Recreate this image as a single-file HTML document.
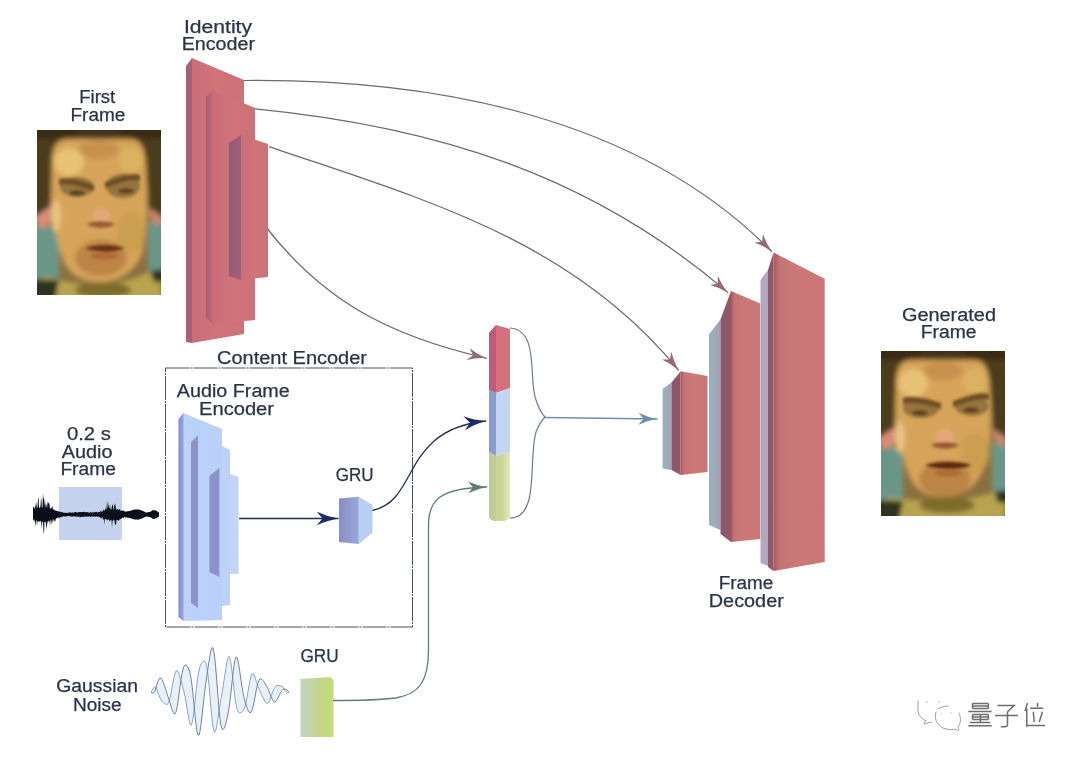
<!DOCTYPE html>
<html><head><meta charset="utf-8">
<style>
html,body{margin:0;padding:0;background:#fff;}
body{width:1080px;height:762px;overflow:hidden;}
svg{display:block;filter:blur(0.35px);}
text{font-family:"Liberation Sans",sans-serif;fill:#2a3448;stroke:#2a3448;stroke-width:0.25px;}
</style></head>
<body>
<svg width="1080" height="762" viewBox="0 0 1080 762">
<defs>
  <linearGradient id="pinkF" x1="0" y1="0" x2="1" y2="0">
    <stop offset="0" stop-color="#c86e7a"/><stop offset="0.5" stop-color="#d07478"/><stop offset="1" stop-color="#cc707a"/>
  </linearGradient>
  <linearGradient id="coralF" x1="0" y1="0" x2="1" y2="0">
    <stop offset="0" stop-color="#a85862"/><stop offset="0.12" stop-color="#c47474"/><stop offset="0.5" stop-color="#cc7878"/><stop offset="1" stop-color="#ca7676"/>
  </linearGradient>
  <linearGradient id="darkS" x1="0" y1="0" x2="1" y2="0">
    <stop offset="0" stop-color="#845c72"/><stop offset="1" stop-color="#985460"/>
  </linearGradient>
  <marker id="arMauve" viewBox="0 0 19 12" refX="19" refY="6" markerWidth="19" markerHeight="12" markerUnits="userSpaceOnUse" orient="auto">
    <path d="M0,0 Q9,4.5 19,6 Q9,7.5 0,12 L5,6 Z" fill="#94697a"/>
  </marker>
  <marker id="arNavy" viewBox="0 0 22 14" refX="22" refY="7" markerWidth="22" markerHeight="14" markerUnits="userSpaceOnUse" orient="auto">
    <path d="M0,0 Q10,5 22,7 Q10,9 0,14 L6,7 Z" fill="#1c2a66"/>
  </marker>
  <marker id="arGreen" viewBox="0 0 19 12" refX="19" refY="6" markerWidth="19" markerHeight="12" markerUnits="userSpaceOnUse" orient="auto">
    <path d="M0,0 Q9,4.5 19,6 Q9,7.5 0,12 L5,6 Z" fill="#5f7f70"/>
  </marker>
  <marker id="arBlue" viewBox="0 0 19 12" refX="19" refY="6" markerWidth="19" markerHeight="12" markerUnits="userSpaceOnUse" orient="auto">
    <path d="M0,0 Q9,4.5 19,6 Q9,7.5 0,12 L5,6 Z" fill="#6d8fae"/>
  </marker>

  <filter id="fblur" x="-10%" y="-10%" width="120%" height="120%"><feGaussianBlur stdDeviation="2.4"/></filter>
  <filter id="fblur2" x="-30%" y="-30%" width="160%" height="160%"><feGaussianBlur stdDeviation="1.6"/></filter>
  <clipPath id="fclip"><rect x="0" y="0" width="124" height="165"/></clipPath>
  <g id="face1">
    <g clip-path="url(#fclip)">
    <rect x="0" y="0" width="124" height="165" fill="#8a7040"/>
    <g filter="url(#fblur)">
      <rect x="-10" y="96" width="32" height="58" fill="#6a9688"/>
      <rect x="111" y="92" width="26" height="54" fill="#6a9688"/>
      <ellipse cx="6" cy="78" rx="10" ry="20" fill="#d88c78"/>
      <ellipse cx="120" cy="80" rx="8" ry="15" fill="#c88670"/>
      <path d="M-10,-10 L134,-10 L134,92 L112,78 C110,40 110,8 62,7 C14,8 14,40 14,76 L-10,92 Z" fill="#4c3e1c"/>
      <path d="M-10,-10 L134,-10 L134,9 L-10,9 Z" fill="#3a2c16"/>
      <ellipse cx="62" cy="8" rx="26" ry="12" fill="#45321a"/>
      <path d="M15,36 C15,18 18,10 30,9 L94,9 C104,10 108,18 109,36 C111,78 110,106 105,124 C96,144 80,152 62,152 C44,152 30,144 24,124 C18,106 13,78 15,36 Z" fill="#d6a45a"/>
      <ellipse cx="62" cy="20" rx="20" ry="9" fill="#c08848" fill-opacity="0.7"/>
      <ellipse cx="32" cy="32" rx="15" ry="14" fill="#e8c274"/>
      <ellipse cx="94" cy="30" rx="12" ry="12" fill="#dcb262"/>
      <ellipse cx="19" cy="86" rx="5" ry="16" fill="#eac282"/>
      <ellipse cx="94" cy="102" rx="14" ry="20" fill="#cc9e50"/>
      <ellipse cx="64" cy="128" rx="26" ry="18" fill="#bc8444"/>
      <path d="M10,146 C40,158 84,158 116,140 L124,148 L124,170 L0,170 L0,150 Z" fill="#b8a450"/>
      <ellipse cx="66" cy="160" rx="28" ry="8" fill="#7e6c2c"/>
      <path d="M-10,149 L22,150 L18,170 L-10,170 Z" fill="#2e3024"/>
      <path d="M113,141 L134,138 L134,152 L117,152 Z" fill="#2e3024"/>
    </g>
    <g filter="url(#fblur2)">
      <ellipse cx="40" cy="57" rx="17" ry="10" fill="#96743c"/>
      <ellipse cx="86" cy="56" rx="17" ry="12" fill="#96743c"/>
      <path d="M22,49 C32,46 47,52 57,55 L57,61 C47,58 32,52 22,55 Z" fill="#6e4e22"/>
      <path d="M68,52 C78,49 93,42 103,45 L103,51 C93,48 78,55 68,58 Z" fill="#6e4e22"/>
      <ellipse cx="40" cy="63" rx="8" ry="2.6" fill="#5a3a1c"/>
      <ellipse cx="89" cy="61" rx="8" ry="2.6" fill="#5a3a1c"/>
      <ellipse cx="64" cy="86" rx="9" ry="8" fill="#e4a878"/>
      <path d="M50,94 C56,90 70,90 78,94 C72,99 56,99 50,94 Z" fill="#9a5a30"/>
      <path d="M48,118 C60,114 77,114 87,118 C79,123 60,123 48,118 Z" fill="#6a3012"/>
      <ellipse cx="67.5" cy="126" rx="14" ry="3.5" fill="#b06a38"/>
    </g>
    </g>
  </g>
  <g id="face2">
    <g clip-path="url(#fclip)">
    <rect x="0" y="0" width="124" height="165" fill="#8a7040"/>
    <g filter="url(#fblur)">
      <rect x="-10" y="96" width="32" height="58" fill="#6a9688"/>
      <rect x="111" y="92" width="26" height="54" fill="#6a9688"/>
      <ellipse cx="6" cy="78" rx="10" ry="20" fill="#d88c78"/>
      <ellipse cx="120" cy="80" rx="8" ry="15" fill="#c88670"/>
      <path d="M-10,-10 L134,-10 L134,92 L112,78 C110,40 110,8 62,7 C14,8 14,40 14,76 L-10,92 Z" fill="#4c3e1c"/>
      <path d="M-10,-10 L134,-10 L134,9 L-10,9 Z" fill="#3a2c16"/>
      <ellipse cx="62" cy="8" rx="26" ry="12" fill="#45321a"/>
      <path d="M15,36 C15,18 18,10 30,9 L94,9 C104,10 108,18 109,36 C111,78 110,94 105,112 C96,138 80,146 62,146 C44,146 30,138 24,112 C18,94 13,78 15,36 Z" fill="#d6a45a"/>
      <ellipse cx="62" cy="20" rx="20" ry="9" fill="#c08848" fill-opacity="0.7"/>
      <ellipse cx="32" cy="32" rx="15" ry="14" fill="#e8c274"/>
      <ellipse cx="94" cy="30" rx="12" ry="12" fill="#dcb262"/>
      <ellipse cx="19" cy="86" rx="5" ry="16" fill="#eac282"/>
      <ellipse cx="94" cy="102" rx="14" ry="20" fill="#cc9e50"/>
      <ellipse cx="64" cy="128" rx="26" ry="18" fill="#bc8444"/>
      <path d="M10,146 C40,152 84,152 116,140 L124,148 L124,170 L0,170 L0,150 Z" fill="#b8a450"/>
      <ellipse cx="66" cy="154" rx="28" ry="8" fill="#7e6c2c"/>
      <path d="M-10,149 L22,150 L18,170 L-10,170 Z" fill="#2e3024"/>
      <path d="M113,141 L134,138 L134,152 L117,152 Z" fill="#2e3024"/>
    </g>
    <g filter="url(#fblur2)">
      <ellipse cx="40" cy="57" rx="18" ry="10" fill="#96743c"/>
      <ellipse cx="91" cy="55" rx="17" ry="10" fill="#96743c"/>
      <path d="M22,47 C32,44 50,49 60,52 L60,58 C50,55 32,50 22,53 Z" fill="#6e4e22"/>
      <path d="M72,50 C82,47 98,40 108,43 L108,49 C98,46 82,53 72,56 Z" fill="#6e4e22"/>
      <ellipse cx="39" cy="62" rx="8" ry="2.6" fill="#5a3a1c"/>
      <ellipse cx="90" cy="59" rx="8" ry="2.6" fill="#5a3a1c"/>
      <ellipse cx="64" cy="86" rx="9" ry="8" fill="#e4a878"/>
      <path d="M50,94 C56,90 70,90 78,94 C72,99 56,99 50,94 Z" fill="#9a5a30"/>
      <path d="M44,114 C56,110 80,110 90,114 C82,119 56,119 44,114 Z" fill="#5a2810"/>
      <ellipse cx="67.0" cy="122" rx="14" ry="3.5" fill="#b06a38"/>
    </g>
    </g>
  </g>
  <linearGradient id="greenG" x1="0" y1="0" x2="1" y2="0">
    <stop offset="0" stop-color="#c0d4c0"/><stop offset="0.5" stop-color="#c4d494"/><stop offset="0.85" stop-color="#c0dc78"/><stop offset="1" stop-color="#c8d888"/>
  </linearGradient>
  <linearGradient id="stripG" x1="0" y1="0" x2="1" y2="0">
    <stop offset="0" stop-color="#a85c72"/><stop offset="1" stop-color="#c06c7c"/>
  </linearGradient>
  <linearGradient id="stripG2" x1="0" y1="0" x2="1" y2="0">
    <stop offset="0" stop-color="#925a7c"/><stop offset="1" stop-color="#a45e78"/>
  </linearGradient>
  <linearGradient id="gruL" x1="0" y1="0" x2="1" y2="0">
    <stop offset="0" stop-color="#8a8ec6"/><stop offset="1" stop-color="#98a6d8"/>
  </linearGradient>
  <linearGradient id="lightS" x1="0" y1="0" x2="1" y2="0">
    <stop offset="0" stop-color="#98b2bc"/><stop offset="0.6" stop-color="#9eaab8"/><stop offset="1" stop-color="#a89cb4"/>
  </linearGradient>
  <linearGradient id="colG" x1="0" y1="0" x2="1" y2="0">
    <stop offset="0" stop-color="#c0d898"/><stop offset="0.6" stop-color="#ccd494"/><stop offset="1" stop-color="#e4e8c4"/>
  </linearGradient>
  <linearGradient id="afeF" x1="0" y1="0" x2="1" y2="0">
    <stop offset="0" stop-color="#c4d2f8"/><stop offset="0.3" stop-color="#b8d2f8"/><stop offset="1" stop-color="#bccff8"/>
  </linearGradient>
  <linearGradient id="afeS" x1="0" y1="0" x2="1" y2="0">
    <stop offset="0" stop-color="#8890c8"/><stop offset="1" stop-color="#9aa0e4"/>
  </linearGradient>
</defs>
<rect width="1080" height="762" fill="#fff"/>

<!-- Labels -->
<text x="184.0" y="32.8" font-size="18" textLength="68.0" lengthAdjust="spacingAndGlyphs">Identity</text>
<text x="181.7" y="50.0" font-size="18" textLength="73.3" lengthAdjust="spacingAndGlyphs">Encoder</text>
<text x="79.2" y="103.0" font-size="18" textLength="36.1" lengthAdjust="spacingAndGlyphs">First</text>
<text x="70.5" y="121.3" font-size="18" textLength="54.9" lengthAdjust="spacingAndGlyphs">Frame</text>
<text x="901.9" y="320.5" font-size="18" textLength="94.1" lengthAdjust="spacingAndGlyphs">Generated</text>
<text x="920.8" y="337.9" font-size="18" textLength="55.7" lengthAdjust="spacingAndGlyphs">Frame</text>
<text x="718.7" y="589.0" font-size="18" textLength="54.6" lengthAdjust="spacingAndGlyphs">Frame</text>
<text x="708.8" y="607.0" font-size="18" textLength="75.0" lengthAdjust="spacingAndGlyphs">Decoder</text>
<text x="217.0" y="364.4" font-size="18" textLength="150.0" lengthAdjust="spacingAndGlyphs">Content Encoder</text>
<text x="176.8" y="397.0" font-size="18" textLength="113.0" lengthAdjust="spacingAndGlyphs">Audio Frame</text>
<text x="199.0" y="414.8" font-size="18" textLength="75.0" lengthAdjust="spacingAndGlyphs">Encoder</text>
<text x="335.8" y="481.0" font-size="18" textLength="37.8" lengthAdjust="spacingAndGlyphs">GRU</text>
<text x="300.4" y="661.8" font-size="18" textLength="38.3" lengthAdjust="spacingAndGlyphs">GRU</text>
<text x="66.9" y="439.5" font-size="18" textLength="44.1" lengthAdjust="spacingAndGlyphs">0.2 s</text>
<text x="61.7" y="457.6" font-size="18" textLength="50.8" lengthAdjust="spacingAndGlyphs">Audio</text>
<text x="60.4" y="475.0" font-size="18" textLength="55.5" lengthAdjust="spacingAndGlyphs">Frame</text>
<text x="56.3" y="692.0" font-size="18" textLength="81.7" lengthAdjust="spacingAndGlyphs">Gaussian</text>
<text x="73.0" y="710.5" font-size="18" textLength="48.7" lengthAdjust="spacingAndGlyphs">Noise</text>

<!-- faces -->
<use href="#face1" x="37" y="130"/>
<use href="#face2" x="881" y="351"/>

<!-- skip curves -->
<g fill="none" stroke="#6c6a72" stroke-width="1.25">
  <path d="M244.0,80.5 C429.9,78.8 636.5,114.4 772.0,251.8" marker-end="url(#arMauve)"/>
  <path d="M255.0,108.8 C435.0,126.4 591.1,174.7 728.3,292.9" marker-end="url(#arMauve)"/>
  <path d="M269.0,146.6 C421.1,198.7 572.0,239.1 678.7,370.4" marker-end="url(#arMauve)"/>
  <path d="M262.0,222.0 C322.5,301.8 390.2,336.1 486.8,358.3" marker-end="url(#arMauve)"/>
</g>

<!-- Identity encoder -->
<g>
  <polygon points="186,66 192,58 192,343 186,342" fill="#a86078"/>
  <polygon points="192,58 244,80 244,334 192,343" fill="url(#pinkF)"/>
  <polygon points="206,97 213,90 213,324 206,318" fill="url(#stripG)"/>
  <polygon points="213,90 255,108 255,320 213,324" fill="url(#pinkF)"/>
  <polygon points="229,143 241,135 241,280 229,276" fill="url(#stripG2)"/>
  <polygon points="241,135 268,144 268,277 241,280" fill="url(#pinkF)"/>
</g>

<!-- Decoder -->
<g>
  <polygon points="662.6,389 671.5,382.5 671.5,470 662.6,468.5" fill="url(#lightS)"/>
  <polygon points="671.5,382.5 680.7,371.3 680.7,475 671.5,470" fill="url(#darkS)"/>
  <polygon points="680.7,371.3 707.5,376 707.5,472 680.7,475" fill="url(#coralF)"/>

  <polygon points="709,334.3 720.5,319.5 720.5,530 709,525" fill="url(#lightS)"/>
  <polygon points="720.5,319.5 731,291 731,542 720.5,534" fill="url(#darkS)"/>
  <polygon points="731,291 760.2,303.6 760.2,539 731,542" fill="url(#coralF)"/>

  <polygon points="760.5,280 768,270 768,566 760.5,563" fill="#b0a8bc"/>
  <polygon points="768,270 773.5,252.5 773.5,571 768,567" fill="url(#darkS)"/>
  <polygon points="773.5,252.5 824.7,278.7 824.7,562 773.5,571" fill="url(#coralF)"/>
</g>

<!-- latent column -->
<g>
  <polygon points="489,333 496,325 510,329 510,388 496,393 489,390" fill="#d6707c"/>
  <polygon points="489,333 496,325 496,393 489,390" fill="#bc5c7a"/>
  <polygon points="489,390 496,393 510,388 510,452 496,456 489,452" fill="#c2d6f2"/>
  <polygon points="489,390 496,393 496,456 489,452" fill="#8c9cd2"/>
  <polygon points="489,452 496,456 510,452 510,518 505,521 494,521 489,518" fill="url(#colG)"/>
  <polygon points="489,452 496,456 496,521 494,521 489,518" fill="#c0cc98"/>
</g>
<path d="M510,328 C540,330 528,380 536,400 C540,412 545,417 545,417 C545,417 540,422 536,432 C528,460 540,518 510,518" fill="none" stroke="#6a7d92" stroke-width="1.2"/>
<path d="M545,417.5 L657.5,419" fill="none" stroke="#6d8fae" stroke-width="1.4" marker-end="url(#arBlue)"/>

<!-- content encoder box -->
<rect x="165.5" y="368" width="247" height="259" fill="none" stroke="#465266" stroke-width="1" stroke-dasharray="24,1,2,1"/>

<!-- audio frame encoder -->
<g>
  <polygon points="178.5,419 183.5,413 222,429 222,620 183.5,621 178.5,617" fill="url(#afeF)"/>
  <polygon points="178.5,419 183.5,413 183.5,621 178.5,617" fill="url(#afeS)"/>
  <polygon points="191,442 198,435.5 198,608 191,603" fill="#8a94c8"/>
  <polygon points="209.4,476 219.3,468 219.3,577 209.4,572" fill="#8a94c8"/>
  <polygon points="222,446 230,450 230,605 222,606" fill="#bed2f8"/>
  <polygon points="230,474 238.5,477 238.5,574 230,574" fill="#c2d4f8"/>
</g>
<path d="M239,518.5 L338.5,518.5" fill="none" stroke="#1e2f5a" stroke-width="1.6" marker-end="url(#arNavy)"/>

<!-- GRU blue -->
<g>
  <polygon points="339,498.5 358.8,496.8 358.8,544 339,542" fill="url(#gruL)"/>
  <polygon points="358.8,496.8 372.5,505 372.5,532.5 358.8,544" fill="#b8cef2"/>
</g>
<path d="M372.5,510.5 C420,500 400,430 486,421" fill="none" stroke="#23304e" stroke-width="1.3" marker-end="url(#arNavy)"/>

<!-- GRU green -->
<g>
  <polygon points="300.5,679 330,677 333.5,680 333.5,737 300.5,737" fill="url(#greenG)"/>
</g>
<path d="M333,700.5 C360,700.5 380,700 396,698 C420,694 428.5,680 428.5,650 L428.5,525 C428.5,500 440,488 487,487" fill="none" stroke="#5f7f70" stroke-width="1.3" marker-end="url(#arGreen)"/>

<!-- audio -->
<rect x="59" y="487" width="63" height="53" fill="#c5d3ee"/>
<path d="M33.0,505.8 L33.5,507.7 L34.0,506.4 L34.5,508.7 L35.0,508.1 L35.5,502.6 L36.0,509.1 L36.5,501.4 L37.0,507.6 L37.5,507.4 L38.0,498.2 L38.5,497.5 L39.0,508.1 L39.5,507.7 L40.0,507.2 L40.5,506.5 L41.0,497.1 L41.5,500.7 L42.0,508.3 L42.5,506.9 L43.0,492.9 L43.5,498.4 L44.0,498.3 L44.5,507.3 L45.0,497.9 L45.5,508.4 L46.0,502.9 L46.5,505.6 L47.0,508.3 L47.5,503.1 L48.0,501.3 L48.5,503.6 L49.0,503.1 L49.5,504.5 L50.0,509.1 L50.5,508.2 L51.0,508.2 L51.5,506.4 L52.0,509.5 L52.5,504.9 L53.0,509.2 L53.5,509.4 L54.0,509.5 L54.5,510.2 L55.0,510.7 L55.5,510.0 L56.0,511.0 L56.5,510.7 L57.0,510.6 L57.5,511.2 L58.0,510.9 L58.5,511.0 L59.0,512.0 L59.5,511.5 L60.0,511.9 L60.5,511.5 L61.0,511.9 L61.5,512.2 L62.0,512.3 L62.5,512.2 L63.0,512.3 L63.5,512.9 L64.0,512.6 L64.5,512.9 L65.0,512.5 L65.5,512.9 L66.0,512.9 L66.5,512.5 L67.0,513.0 L67.5,512.9 L68.0,512.4 L68.5,512.9 L69.0,512.6 L69.5,511.7 L70.0,513.0 L70.5,512.2 L71.0,512.9 L71.5,512.5 L72.0,512.7 L72.5,512.2 L73.0,512.9 L73.5,512.4 L74.0,512.3 L74.5,512.5 L75.0,511.9 L75.5,512.0 L76.0,512.3 L76.5,512.3 L77.0,512.4 L77.5,512.5 L78.0,512.5 L78.5,511.9 L79.0,512.2 L79.5,511.9 L80.0,512.0 L80.5,512.1 L81.0,512.1 L81.5,512.3 L82.0,512.1 L82.5,512.1 L83.0,512.1 L83.5,512.1 L84.0,511.5 L84.5,512.3 L85.0,512.3 L85.5,512.0 L86.0,511.9 L86.5,512.4 L87.0,512.1 L87.5,512.2 L88.0,512.0 L88.5,512.7 L89.0,512.4 L89.5,512.8 L90.0,512.6 L90.5,511.7 L91.0,512.4 L91.5,512.3 L92.0,512.7 L92.5,512.4 L93.0,511.4 L93.5,512.5 L94.0,512.4 L94.5,512.3 L95.0,512.0 L95.5,511.8 L96.0,512.4 L96.5,511.4 L97.0,512.5 L97.5,512.3 L98.0,512.3 L98.5,512.3 L99.0,511.8 L99.5,512.2 L100.0,511.8 L100.5,511.4 L101.0,509.9 L101.5,512.1 L102.0,511.5 L102.5,511.5 L103.0,511.1 L103.5,509.1 L104.0,510.8 L104.5,510.6 L105.0,510.0 L105.5,507.5 L106.0,509.4 L106.5,509.6 L107.0,500.5 L107.5,509.5 L108.0,501.8 L108.5,505.6 L109.0,508.2 L109.5,508.1 L110.0,503.9 L110.5,509.1 L111.0,509.6 L111.5,509.1 L112.0,506.3 L112.5,504.2 L113.0,505.4 L113.5,509.6 L114.0,509.6 L114.5,502.4 L115.0,506.5 L115.5,503.4 L116.0,509.4 L116.5,509.5 L117.0,509.6 L117.5,508.8 L118.0,509.4 L118.5,510.1 L119.0,509.2 L119.5,509.0 L120.0,509.9 L120.5,510.8 L121.0,510.7 L121.5,509.9 L122.0,511.0 L122.5,510.6 L123.0,510.9 L123.5,510.3 L124.0,511.1 L124.5,511.2 L125.0,511.8 L125.5,511.4 L126.0,511.5 L126.5,511.4 L127.0,511.4 L127.5,511.3 L128.0,511.2 L128.5,511.2 L129.0,511.1 L129.5,511.1 L130.0,511.0 L130.5,510.8 L131.0,510.6 L131.5,510.4 L132.0,510.2 L132.5,510.1 L133.0,509.9 L133.5,509.7 L134.0,509.5 L134.5,509.5 L135.0,509.4 L135.5,509.4 L136.0,509.4 L136.5,509.4 L137.0,509.4 L137.5,509.3 L138.0,509.3 L138.5,509.4 L139.0,509.6 L139.5,509.8 L140.0,509.9 L140.5,510.1 L141.0,510.2 L141.5,510.4 L142.0,510.5 L142.5,510.8 L143.0,511.0 L143.5,511.2 L144.0,511.5 L144.5,511.8 L145.0,512.0 L145.5,512.2 L146.0,512.5 L146.5,512.4 L147.0,512.4 L147.5,512.3 L148.0,512.2 L148.5,512.2 L149.0,512.1 L149.5,512.1 L150.0,512.0 L150.5,511.7 L151.0,511.3 L151.5,511.0 L152.0,510.7 L152.5,510.3 L153.0,510.0 L153.5,510.1 L154.0,510.2 L154.5,510.2 L155.0,510.3 L155.5,510.4 L156.0,510.5 L156.5,510.8 L157.0,511.2 L157.5,511.5 L158.0,511.8 L158.5,512.2 L159.0,512.4 L159.0,516.4 L158.5,516.8 L158.0,517.2 L157.5,517.5 L157.0,517.8 L156.5,518.2 L156.0,518.5 L155.5,518.6 L155.0,518.7 L154.5,518.8 L154.0,518.8 L153.5,518.9 L153.0,519.0 L152.5,518.7 L152.0,518.3 L151.5,518.0 L151.0,517.7 L150.5,517.3 L150.0,517.0 L149.5,516.9 L149.0,516.9 L148.5,516.8 L148.0,516.8 L147.5,516.7 L147.0,516.6 L146.5,516.6 L146.0,516.5 L145.5,516.8 L145.0,517.0 L144.5,517.2 L144.0,517.5 L143.5,517.8 L143.0,518.0 L142.5,518.2 L142.0,518.5 L141.5,518.6 L141.0,518.8 L140.5,519.0 L140.0,519.1 L139.5,519.2 L139.0,519.4 L138.5,519.5 L138.0,519.7 L137.5,519.7 L137.0,519.6 L136.5,519.6 L136.0,519.6 L135.5,519.6 L135.0,519.5 L134.5,519.5 L134.0,519.5 L133.5,519.3 L133.0,519.1 L132.5,518.9 L132.0,518.8 L131.5,518.6 L131.0,518.4 L130.5,518.2 L130.0,518.0 L129.5,517.9 L129.0,517.9 L128.5,517.8 L128.0,517.8 L127.5,517.7 L127.0,517.6 L126.5,517.6 L126.0,517.5 L125.5,517.6 L125.0,517.1 L124.5,517.1 L124.0,517.5 L123.5,518.0 L123.0,518.2 L122.5,517.5 L122.0,517.7 L121.5,518.6 L121.0,518.7 L120.5,519.1 L120.0,519.2 L119.5,519.4 L119.0,520.0 L118.5,521.1 L118.0,520.2 L117.5,520.0 L117.0,520.3 L116.5,519.8 L116.0,525.3 L115.5,524.1 L115.0,525.0 L114.5,520.5 L114.0,519.4 L113.5,520.0 L113.0,520.9 L112.5,520.7 L112.0,527.8 L111.5,519.7 L111.0,520.5 L110.5,519.7 L110.0,520.8 L109.5,521.7 L109.0,519.5 L108.5,519.5 L108.0,519.5 L107.5,520.6 L107.0,519.4 L106.5,519.1 L106.0,519.4 L105.5,519.1 L105.0,518.7 L104.5,525.1 L104.0,518.0 L103.5,519.7 L103.0,520.1 L102.5,517.1 L102.0,517.5 L101.5,519.0 L101.0,517.4 L100.5,517.9 L100.0,517.2 L99.5,516.9 L99.0,516.9 L98.5,516.5 L98.0,516.7 L97.5,517.1 L97.0,516.5 L96.5,516.5 L96.0,516.4 L95.5,516.5 L95.0,516.8 L94.5,516.6 L94.0,516.2 L93.5,516.7 L93.0,516.4 L92.5,516.7 L92.0,516.2 L91.5,516.5 L91.0,516.7 L90.5,517.4 L90.0,516.3 L89.5,516.2 L89.0,516.4 L88.5,516.7 L88.0,516.4 L87.5,516.5 L87.0,516.8 L86.5,516.4 L86.0,516.7 L85.5,516.5 L85.0,516.4 L84.5,516.8 L84.0,516.9 L83.5,516.6 L83.0,516.8 L82.5,516.8 L82.0,517.1 L81.5,516.5 L81.0,517.2 L80.5,517.3 L80.0,517.1 L79.5,517.0 L79.0,516.7 L78.5,517.0 L78.0,516.7 L77.5,516.7 L77.0,516.6 L76.5,516.5 L76.0,516.5 L75.5,516.8 L75.0,516.4 L74.5,516.4 L74.0,516.3 L73.5,516.3 L73.0,516.5 L72.5,516.4 L72.0,516.5 L71.5,516.5 L71.0,516.4 L70.5,516.2 L70.0,516.4 L69.5,516.0 L69.0,516.0 L68.5,516.1 L68.0,516.1 L67.5,516.1 L67.0,516.5 L66.5,516.0 L66.0,517.0 L65.5,516.2 L65.0,516.6 L64.5,516.4 L64.0,516.1 L63.5,516.2 L63.0,516.7 L62.5,516.8 L62.0,516.7 L61.5,516.8 L61.0,517.2 L60.5,516.9 L60.0,517.7 L59.5,517.8 L59.0,517.4 L58.5,517.6 L58.0,517.7 L57.5,518.1 L57.0,517.8 L56.5,518.7 L56.0,517.9 L55.5,520.5 L55.0,521.9 L54.5,519.5 L54.0,522.5 L53.5,519.6 L53.0,518.8 L52.5,523.8 L52.0,519.3 L51.5,525.1 L51.0,519.3 L50.5,520.6 L50.0,526.5 L49.5,521.0 L49.0,521.4 L48.5,520.3 L48.0,523.3 L47.5,521.1 L47.0,525.4 L46.5,529.5 L46.0,523.9 L45.5,521.6 L45.0,522.1 L44.5,521.8 L44.0,534.2 L43.5,531.6 L43.0,522.3 L42.5,522.2 L42.0,521.4 L41.5,529.5 L41.0,520.5 L40.5,522.1 L40.0,520.6 L39.5,522.1 L39.0,521.7 L38.5,521.5 L38.0,520.9 L37.5,521.4 L37.0,525.6 L36.5,520.4 L36.0,519.9 L35.5,526.8 L35.0,523.0 L34.5,520.0 L34.0,519.4 L33.5,519.8 L33.0,522.3 Z" fill="#0a0f1a"/>


<!-- noise -->
<path d="M151.0,692.0 L152.0,692.9 L153.0,693.2 L154.0,692.6 L155.0,691.0 L156.0,688.0 L157.0,684.0 L158.0,681.2 L159.0,679.1 L160.0,678.1 L161.0,678.2 L162.0,679.5 L163.0,681.6 L164.0,684.4 L165.0,687.4 L166.0,690.4 L167.0,693.5 L168.0,696.5 L169.0,699.6 L170.0,702.8 L171.0,706.2 L172.0,709.5 L173.0,712.2 L174.0,713.9 L175.0,713.9 L176.0,711.8 L177.0,707.6 L178.0,701.6 L179.0,694.4 L180.0,686.7 L181.0,679.5 L182.0,673.5 L183.0,669.1 L184.0,666.3 L185.0,665.1 L186.0,664.9 L187.0,665.7 L188.0,667.1 L189.0,669.4 L190.0,673.0 L191.0,678.3 L192.0,685.5 L193.0,694.5 L194.0,704.7 L195.0,715.1 L196.0,724.5 L197.0,731.5 L198.0,735.2 L199.0,735.1 L200.0,731.3 L201.0,724.6 L202.0,716.2 L203.0,706.9 L204.0,697.9 L205.0,689.5 L206.0,681.9 L207.0,674.8 L208.0,667.9 L209.0,661.3 L210.0,655.2 L211.0,650.3 L212.0,647.6 L213.0,648.0 L214.0,652.1 L215.0,660.0 L216.0,671.0 L217.0,683.9 L218.0,697.1 L219.0,709.2 L220.0,718.8 L221.0,725.4 L222.0,728.9 L223.0,729.7 L224.0,728.5 L225.0,726.0 L226.0,722.8 L227.0,718.9 L228.0,714.0 L229.0,708.0 L230.0,700.7 L231.0,692.1 L232.0,682.7 L233.0,673.5 L234.0,665.5 L235.0,659.8 L236.0,657.0 L237.0,657.4 L238.0,660.7 L239.0,666.3 L240.0,673.1 L241.0,680.2 L242.0,686.8 L243.0,692.6 L244.0,697.4 L245.0,701.4 L246.0,704.7 L247.0,707.7 L248.0,710.2 L249.0,712.0 L250.0,712.9 L251.0,712.4 L252.0,710.5 L253.0,707.0 L254.0,702.4 L255.0,697.0 L256.0,691.5 L257.0,686.6 L258.0,682.8 L259.0,680.2 L260.0,678.9 L261.0,678.8 L262.0,679.4 L263.0,680.5 L264.0,681.8 L265.0,683.3 L266.0,685.0 L267.0,686.8 L268.0,688.9 L269.0,691.3 L270.0,693.9 L271.0,696.5 L272.0,698.9 L273.0,700.7 L274.0,701.7 L275.0,701.9 L276.0,701.2 L277.0,699.8 L278.0,697.9 L279.0,695.9 L280.0,693.9 L281.0,692.2 L282.0,690.7 L283.0,689.4 L284.0,689.0 L285.0,689.0 L286.0,689.3 L287.0,690.0 L288.0,690.9 L289.0,692.0 L289.0,692.0 L288.0,692.6 L287.0,692.5 L286.0,691.8 L285.0,690.5 L284.0,688.9 L283.0,687.2 L282.0,686.5 L281.0,686.1 L280.0,685.8 L279.0,685.6 L278.0,685.5 L277.0,685.6 L276.0,686.1 L275.0,687.1 L274.0,688.7 L273.0,690.9 L272.0,693.6 L271.0,696.5 L270.0,699.3 L269.0,701.5 L268.0,702.9 L267.0,703.3 L266.0,702.8 L265.0,701.5 L264.0,699.7 L263.0,697.6 L262.0,695.6 L261.0,693.5 L260.0,691.5 L259.0,689.2 L258.0,686.6 L257.0,683.7 L256.0,680.5 L255.0,677.4 L254.0,674.9 L253.0,673.6 L252.0,674.0 L251.0,676.2 L250.0,680.2 L249.0,685.5 L248.0,691.5 L247.0,697.4 L246.0,702.6 L245.0,706.6 L244.0,709.4 L243.0,711.1 L242.0,712.1 L241.0,712.6 L240.0,712.9 L239.0,712.6 L238.0,711.4 L237.0,708.8 L236.0,704.3 L235.0,697.8 L234.0,689.5 L233.0,680.2 L232.0,671.2 L231.0,663.5 L230.0,658.4 L229.0,656.4 L228.0,657.6 L227.0,661.5 L226.0,667.3 L225.0,674.0 L224.0,680.7 L223.0,686.9 L222.0,692.8 L221.0,698.5 L220.0,704.5 L219.0,711.0 L218.0,717.8 L217.0,724.4 L216.0,729.5 L215.0,732.2 L214.0,731.5 L213.0,727.0 L212.0,719.0 L211.0,708.3 L210.0,696.5 L209.0,685.0 L208.0,675.3 L207.0,668.0 L206.0,663.5 L205.0,661.4 L204.0,660.9 L203.0,661.5 L202.0,662.6 L201.0,664.2 L200.0,666.6 L199.0,670.2 L198.0,675.7 L197.0,683.0 L196.0,691.9 L195.0,701.6 L194.0,710.8 L193.0,718.4 L192.0,723.4 L191.0,725.2 L190.0,723.8 L189.0,719.8 L188.0,714.2 L187.0,708.0 L186.0,701.9 L185.0,696.5 L184.0,692.0 L183.0,688.0 L182.0,684.4 L181.0,680.9 L180.0,677.4 L179.0,674.2 L178.0,671.8 L177.0,670.5 L176.0,671.0 L175.0,673.3 L174.0,677.3 L173.0,682.5 L172.0,688.2 L171.0,693.6 L170.0,698.2 L169.0,701.6 L168.0,703.6 L167.0,704.4 L166.0,704.3 L165.0,703.8 L164.0,703.0 L163.0,702.0 L162.0,701.0 L161.0,699.6 L160.0,697.9 L159.0,695.6 L158.0,692.9 L157.0,689.9 L156.0,687.8 L155.0,686.9 L154.0,687.3 L153.0,688.6 L152.0,690.3 L151.0,692.0 Z" fill="#e8f0fa" fill-rule="evenodd" stroke="none"/>
<path d="M151.0,692.0 L152.0,690.3 L153.0,688.6 L154.0,687.3 L155.0,686.9 L156.0,687.8 L157.0,689.9 L158.0,692.9 L159.0,695.6 L160.0,697.9 L161.0,699.6 L162.0,701.0 L163.0,702.0 L164.0,703.0 L165.0,703.8 L166.0,704.3 L167.0,704.4 L168.0,703.6 L169.0,701.6 L170.0,698.2 L171.0,693.6 L172.0,688.2 L173.0,682.5 L174.0,677.3 L175.0,673.3 L176.0,671.0 L177.0,670.5 L178.0,671.8 L179.0,674.2 L180.0,677.4 L181.0,680.9 L182.0,684.4 L183.0,688.0 L184.0,692.0 L185.0,696.5 L186.0,701.9 L187.0,708.0 L188.0,714.2 L189.0,719.8 L190.0,723.8 L191.0,725.2 L192.0,723.4 L193.0,718.4 L194.0,710.8 L195.0,701.6 L196.0,691.9 L197.0,683.0 L198.0,675.7 L199.0,670.2 L200.0,666.6 L201.0,664.2 L202.0,662.6 L203.0,661.5 L204.0,660.9 L205.0,661.4 L206.0,663.5 L207.0,668.0 L208.0,675.3 L209.0,685.0 L210.0,696.5 L211.0,708.3 L212.0,719.0 L213.0,727.0 L214.0,731.5 L215.0,732.2 L216.0,729.5 L217.0,724.4 L218.0,717.8 L219.0,711.0 L220.0,704.5 L221.0,698.5 L222.0,692.8 L223.0,686.9 L224.0,680.7 L225.0,674.0 L226.0,667.3 L227.0,661.5 L228.0,657.6 L229.0,656.4 L230.0,658.4 L231.0,663.5 L232.0,671.2 L233.0,680.2 L234.0,689.5 L235.0,697.8 L236.0,704.3 L237.0,708.8 L238.0,711.4 L239.0,712.6 L240.0,712.9 L241.0,712.6 L242.0,712.1 L243.0,711.1 L244.0,709.4 L245.0,706.6 L246.0,702.6 L247.0,697.4 L248.0,691.5 L249.0,685.5 L250.0,680.2 L251.0,676.2 L252.0,674.0 L253.0,673.6 L254.0,674.9 L255.0,677.4 L256.0,680.5 L257.0,683.7 L258.0,686.6 L259.0,689.2 L260.0,691.5 L261.0,693.5 L262.0,695.6 L263.0,697.6 L264.0,699.7 L265.0,701.5 L266.0,702.8 L267.0,703.3 L268.0,702.9 L269.0,701.5 L270.0,699.3 L271.0,696.5 L272.0,693.6 L273.0,690.9 L274.0,688.7 L275.0,687.1 L276.0,686.1 L277.0,685.6 L278.0,685.5 L279.0,685.6 L280.0,685.8 L281.0,686.1 L282.0,686.5 L283.0,687.2 L284.0,688.9 L285.0,690.5 L286.0,691.8 L287.0,692.5 L288.0,692.6 L289.0,692.0" fill="none" stroke="#8ea4c0" stroke-width="1"/>
<path d="M151.0,692.0 L152.0,692.9 L153.0,693.2 L154.0,692.6 L155.0,691.0 L156.0,688.0 L157.0,684.0 L158.0,681.2 L159.0,679.1 L160.0,678.1 L161.0,678.2 L162.0,679.5 L163.0,681.6 L164.0,684.4 L165.0,687.4 L166.0,690.4 L167.0,693.5 L168.0,696.5 L169.0,699.6 L170.0,702.8 L171.0,706.2 L172.0,709.5 L173.0,712.2 L174.0,713.9 L175.0,713.9 L176.0,711.8 L177.0,707.6 L178.0,701.6 L179.0,694.4 L180.0,686.7 L181.0,679.5 L182.0,673.5 L183.0,669.1 L184.0,666.3 L185.0,665.1 L186.0,664.9 L187.0,665.7 L188.0,667.1 L189.0,669.4 L190.0,673.0 L191.0,678.3 L192.0,685.5 L193.0,694.5 L194.0,704.7 L195.0,715.1 L196.0,724.5 L197.0,731.5 L198.0,735.2 L199.0,735.1 L200.0,731.3 L201.0,724.6 L202.0,716.2 L203.0,706.9 L204.0,697.9 L205.0,689.5 L206.0,681.9 L207.0,674.8 L208.0,667.9 L209.0,661.3 L210.0,655.2 L211.0,650.3 L212.0,647.6 L213.0,648.0 L214.0,652.1 L215.0,660.0 L216.0,671.0 L217.0,683.9 L218.0,697.1 L219.0,709.2 L220.0,718.8 L221.0,725.4 L222.0,728.9 L223.0,729.7 L224.0,728.5 L225.0,726.0 L226.0,722.8 L227.0,718.9 L228.0,714.0 L229.0,708.0 L230.0,700.7 L231.0,692.1 L232.0,682.7 L233.0,673.5 L234.0,665.5 L235.0,659.8 L236.0,657.0 L237.0,657.4 L238.0,660.7 L239.0,666.3 L240.0,673.1 L241.0,680.2 L242.0,686.8 L243.0,692.6 L244.0,697.4 L245.0,701.4 L246.0,704.7 L247.0,707.7 L248.0,710.2 L249.0,712.0 L250.0,712.9 L251.0,712.4 L252.0,710.5 L253.0,707.0 L254.0,702.4 L255.0,697.0 L256.0,691.5 L257.0,686.6 L258.0,682.8 L259.0,680.2 L260.0,678.9 L261.0,678.8 L262.0,679.4 L263.0,680.5 L264.0,681.8 L265.0,683.3 L266.0,685.0 L267.0,686.8 L268.0,688.9 L269.0,691.3 L270.0,693.9 L271.0,696.5 L272.0,698.9 L273.0,700.7 L274.0,701.7 L275.0,701.9 L276.0,701.2 L277.0,699.8 L278.0,697.9 L279.0,695.9 L280.0,693.9 L281.0,692.2 L282.0,690.7 L283.0,689.4 L284.0,689.0 L285.0,689.0 L286.0,689.3 L287.0,690.0 L288.0,690.9 L289.0,692.0" fill="none" stroke="#74829a" stroke-width="1"/>


<!-- watermark -->
<g fill="none" stroke="#8a8a8a" stroke-width="1" stroke-linecap="round" opacity="0.85">
  <path d="M918,701 L918,712 C919,716 922,719 926,721 C924,722 923,724 925,724 C928,723 930,722 932,722"/>
  <path d="M938,709 C941,707 945,706 948,706 M936,712 C934,718 936,724 943,728 C948,730 953,730 956,729 C957,731 959,731 959,730 C958,728 958,727 959,725 C961,722 961,718 959,713"/>
  <circle cx="927" cy="702" r="0.8" fill="#999" stroke="none"/>
  <circle cx="939" cy="702" r="0.8" fill="#999" stroke="none"/>
  <circle cx="941" cy="714" r="0.7" fill="#aaa" stroke="none"/>
  <circle cx="951" cy="713" r="0.7" fill="#aaa" stroke="none"/>
</g>
<g fill="none" stroke="#6e6e6e" stroke-width="1.5" stroke-linecap="butt">
  <path d="M972.5,703.5 H988.3 M972.5,706 H988.3 M972.5,708.5 H988.3 M968.3,711.5 H991.7 M972.5,714.5 H988.3 M972.5,717 H988.3 M972.5,719.5 H988.3 M970,722.5 H990 M968.3,725.8 H991.7 M980.4,714.5 V722.5 M972.5,703.5 V708.5 M988.3,703.5 V708.5 M972.5,714.5 V719.5 M988.3,714.5 V719.5"/>
  <path d="M997.5,705.5 H1014 L1007.5,711.7 M995,715.5 H1018 M1007.5,711.7 V725 C1007.5,726.5 1006,726.7 1000.8,726.7"/>
  <path d="M1027.5,703 L1025,711 M1026.8,708.5 V726.7 M1037.5,703 V707 M1030,708.3 H1043.3 M1033.3,711.7 L1034.2,722 M1042.5,711.7 L1039.2,722 M1026.8,725.5 H1045"/>
</g>
</svg>
</body></html>
